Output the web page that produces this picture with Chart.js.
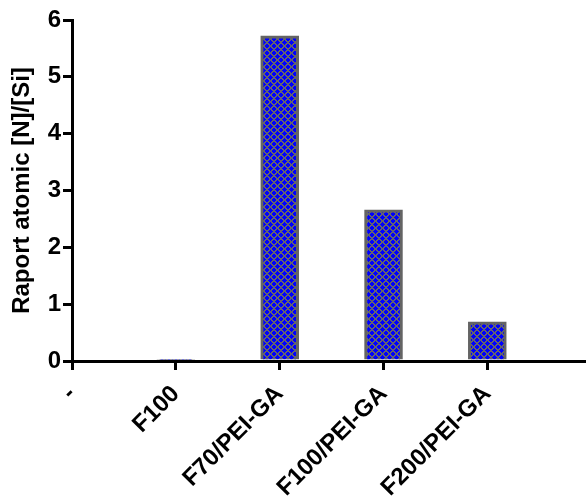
<!DOCTYPE html>
<html>
<head>
<meta charset="utf-8">
<script src="https://cdn.jsdelivr.net/npm/chart.js@4/dist/chart.umd.min.js"></script>
<style>
  html, body { margin: 0; padding: 0; background: #fff; }
  #wrap { width: 586px; height: 500px; }
</style>
</head>
<body>
<div id="wrap"><canvas id="c" width="586" height="500"></canvas></div>
<script>
// Sample groups and the measured [N]/[Si] atomic ratio for each
const categories = ['-', 'F100', 'F70/PEI-GA', 'F100/PEI-GA', 'F200/PEI-GA'];
const ratios = [null, 0.03, 5.72, 2.66, 0.69];
const yTicks = [0, 1, 2, 3, 4, 5, 6];

// Blue fill crossed by a grey diagonal lattice, drawn pixel by pixel
function makeHatch() {
  const s = 7;
  const tile = document.createElement('canvas');
  tile.width = s; tile.height = s;
  const g = tile.getContext('2d');
  const img = g.createImageData(s, s);
  for (let y = 0; y < s; y++) {
    for (let x = 0; x < s; x++) {
      const a = (x + y) % s, b = (x - y + s) % s;
      const onLine = a <= 1 || b <= 1;
      const k = (y * s + x) * 4;
      if (onLine) { img.data[k] = 100; img.data[k + 1] = 100; img.data[k + 2] = 110; }
      else { img.data[k] = 0; img.data[k + 1] = 0; img.data[k + 2] = 255; }
      img.data[k + 3] = 255;
    }
  }
  g.putImageData(img, 0, 0);
  return g.createPattern(tile, 'repeat');
}

const ctx = document.getElementById('c').getContext('2d');
const hatch = makeHatch();
const font = { family: '"Liberation Sans", Arial, sans-serif', size: 24, weight: 'bold' };

new Chart(ctx, {
  type: 'bar',
  data: {
    datasets: [{
      data: ratios.map((v, i) => ({ x: i, y: v })),
      backgroundColor: hatch,
      borderColor: '#646464',
      borderWidth: 3,
      barThickness: 38
    }]
  },
  options: {
    responsive: false,
    animation: false,
    layout: { padding: { top: 20, right: 0, left: 0, bottom: 0 } },
    plugins: { legend: { display: false }, tooltip: { enabled: false } },
    scales: {
      x: {
        type: 'linear',
        min: 0,
        max: 4.95,
        offset: false,
        afterBuildTicks: (scale) => { scale.ticks = categories.map((_, i) => ({ value: i })); },
        afterFit: (scale) => { scale.height = 139; },
        border: { display: true, color: '#000', width: 3 },
        grid: { offset: false, drawOnChartArea: false, drawTicks: true, tickLength: 9, tickColor: '#000', lineWidth: 3 },
        ticks: {
          color: '#000',
          font: font,
          minRotation: 45,
          maxRotation: 45,
          autoSkip: false,
          padding: 10,
          callback: (v) => categories[v] !== undefined ? categories[v] : ''
        }
      },
      y: {
        min: 0,
        max: 6,
        afterBuildTicks: (scale) => { scale.ticks = yTicks.map(v => ({ value: v })); },
        afterFit: (scale) => { scale.width = 72; },
        border: { display: true, color: '#000', width: 3 },
        grid: { drawOnChartArea: false, drawTicks: true, tickLength: 9, tickColor: '#000', lineWidth: 3 },
        ticks: { color: '#000', font: font, padding: 2 },
        title: {
          display: true,
          text: 'Raport atomic [N]/[Si]',
          color: '#000',
          font: font,
          padding: { top: 8, bottom: 0 }
        }
      }
    }
  }
});
</script>
</body>
</html>
